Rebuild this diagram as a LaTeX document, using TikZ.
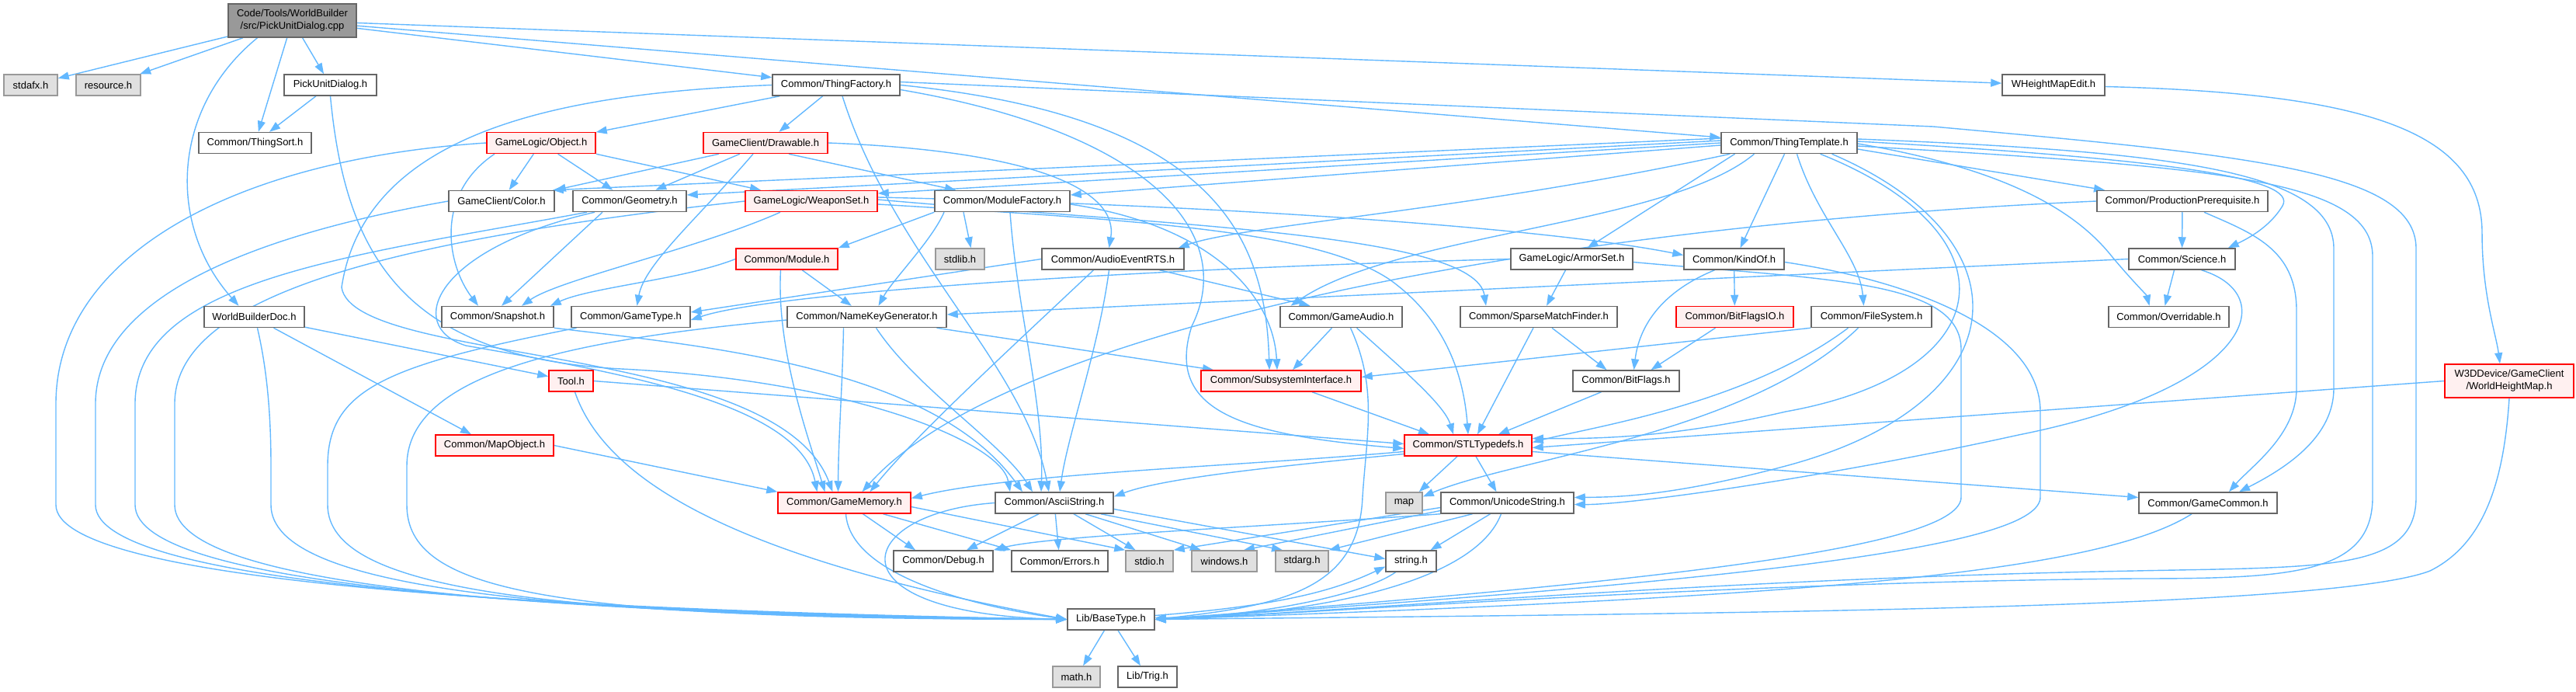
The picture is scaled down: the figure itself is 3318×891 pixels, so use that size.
\documentclass[tikz,border=0pt]{standalone}
\usepackage{fontspec}
\setmainfont{Liberation Sans}
\usetikzlibrary{arrows.meta,backgrounds}

\definecolor{edgeblue}{HTML}{63B8FF}
\definecolor{boxgray}{HTML}{666666}
\definecolor{sysgray}{HTML}{999999}
\definecolor{sysfill}{HTML}{E0E0E0}
\definecolor{redfill}{HTML}{FFF0F0}
\definecolor{rootfill}{HTML}{999999}

\begin{document}
\begin{tikzpicture}[x=1pt,y=-1pt,
  hdr/.style={draw=boxgray, fill=white, line width=1.5pt, minimum height=27pt,
    inner sep=0pt, font=\fontsize{13}{16}\selectfont},
  sysbox/.style={hdr, draw=sysgray, fill=sysfill},
  redbox/.style={hdr, draw=red, fill=redfill},
  rootbox/.style={hdr, fill=rootfill, minimum height=43pt, align=center},
  edge/.style={draw=edgeblue, line width=1.4pt, -{Triangle[length=14pt,width=10pt]}}]
\useasboundingbox (0,0) rectangle (3318,891);

\node[rootbox, minimum width=165] (root) at (376.5,26.5) {Code/Tools/WorldBuilder\\/src/PickUnitDialog.cpp};
\node[sysbox, minimum width=69] (stdafx) at (39.5,109.5) {stdafx.h};
\node[sysbox, minimum width=83] (resource) at (139.5,109.5) {resource.h};
\node[hdr, minimum width=119] (pud) at (425.5,109.5) {PickUnitDialog.h};
\node[hdr, minimum width=164] (tfac) at (1077,109.5) {Common/ThingFactory.h};
\node[hdr, minimum width=132] (whme) at (2645,109.5) {WHeightMapEdit.h};
\node[hdr, minimum width=145] (tsort) at (328.5,184) {Common/ThingSort.h};
\node[redbox, minimum width=140] (obj) at (697,184) {GameLogic/Object.h};
\node[redbox, minimum width=160] (drawable) at (986,184) {GameClient/Drawable.h};
\node[hdr, minimum width=175] (ttpl) at (2304.5,184) {Common/ThingTemplate.h};
\node[hdr, minimum width=136] (color) at (646,259) {GameClient/Color.h};
\node[hdr, minimum width=146] (geom) at (811,259) {Common/Geometry.h};
\node[redbox, minimum width=170] (wset) at (1045,259) {GameLogic/WeaponSet.h};
\node[hdr, minimum width=174] (mfac) at (1291,259) {Common/ModuleFactory.h};
\node[hdr, minimum width=220] (prereq) at (2811,259) {Common/ProductionPrerequisite.h};
\node[redbox, minimum width=131] (module) at (1013.5,333.5) {Common/Module.h};
\node[sysbox, minimum width=63] (stdlib) at (1236.5,333.5) {stdlib.h};
\node[hdr, minimum width=183] (aevt) at (1433.5,333.5) {Common/AudioEventRTS.h};
\node[hdr, minimum width=157] (armor) at (2024.5,333.5) {GameLogic/ArmorSet.h};
\node[hdr, minimum width=129] (kindof) at (2233.5,333.5) {Common/KindOf.h};
\node[hdr, minimum width=137] (science) at (2810.5,333.5) {Common/Science.h};
\node[hdr, minimum width=129] (wbdoc) at (327.5,408) {WorldBuilderDoc.h};
\node[hdr, minimum width=144] (snap) at (641,408) {Common/Snapshot.h};
\node[hdr, minimum width=153] (gtype) at (812.5,408) {Common/GameType.h};
\node[hdr, minimum width=205] (nkg) at (1116.5,408) {Common/NameKeyGenerator.h};
\node[hdr, minimum width=157] (gaudio) at (1727.5,408) {Common/GameAudio.h};
\node[hdr, minimum width=202] (smf) at (1982,408) {Common/SparseMatchFinder.h};
\node[redbox, minimum width=151] (bfio) at (2234.5,408) {Common/BitFlagsIO.h};
\node[hdr, minimum width=155] (fsys) at (2410.5,408) {Common/FileSystem.h};
\node[hdr, minimum width=155] (overr) at (2793.5,408) {Common/Overridable.h};
\node[redbox, minimum width=57] (tool) at (735.5,490.5) {Tool.h};
\node[redbox, minimum width=206] (subsys) at (1650,490.5) {Common/SubsystemInterface.h};
\node[hdr, minimum width=137] (bflags) at (2094.5,490.5) {Common/BitFlags.h};
\node[redbox, minimum width=166, minimum height=43pt, align=center] (whmap) at (3232,490.5) {W3DDevice/GameClient\\/WorldHeightMap.h};
\node[redbox, minimum width=152] (mapobj) at (637,573.5) {Common/MapObject.h};
\node[redbox, minimum width=164] (stl) at (1891,573.5) {Common/STLTypedefs.h};
\node[redbox, minimum width=171] (gmem) at (1087.5,647.5) {Common/GameMemory.h};
\node[hdr, minimum width=152] (astr) at (1358,647.5) {Common/AsciiString.h};
\node[sysbox, minimum width=47] (map) at (1808.5,647.5) {map};
\node[hdr, minimum width=171] (ustr) at (1941.5,647.5) {Common/UnicodeString.h};
\node[hdr, minimum width=178] (gcommon) at (2844,647.5) {Common/GameCommon.h};
\node[hdr, minimum width=128] (debug) at (1215,722.5) {Common/Debug.h};
\node[hdr, minimum width=124] (errors) at (1365,722.5) {Common/Errors.h};
\node[sysbox, minimum width=61] (stdio) at (1480.5,722.5) {stdio.h};
\node[sysbox, minimum width=84] (windows) at (1577,722.5) {windows.h};
\node[sysbox, minimum width=68] (stdarg) at (1677,722.5) {stdarg.h};
\node[hdr, minimum width=65] (string) at (1817.5,722.5) {string.h};
\node[hdr, minimum width=112] (btype) at (1431,797.5) {Lib/BaseType.h};
\node[sysbox, minimum width=61] (math) at (1386.5,871.5) {math.h};
\node[hdr, minimum width=76] (trig) at (1478,871.5) {Lib/Trig.h};

\begin{scope}[on background layer]
\draw[edge] (root) -- (stdafx);
\draw[edge] (root) -- (resource);
\draw[edge] (root) -- (pud);
\draw[edge] (root) -- (tsort);
\draw[edge] ([xshift=-45pt]root.south) .. controls (220,140) and (215,290) .. ([xshift=-20pt]wbdoc.north);
\draw[edge] (root) -- (tfac);
\draw[edge] (root) -- (ttpl);
\draw[edge] (root) -- (whme);

\draw[edge] (pud) -- (tsort);
\draw[edge] (pud.south) .. controls (445,330) and (520,460) .. (800,475) .. controls (1100,490) and (1290,570) .. ([xshift=-57pt]astr.north);

\draw[edge] (tfac) -- (obj);
\draw[edge] (tfac) -- (drawable);
\draw[edge] (tfac.east) .. controls (1560,150) and (1630,300) .. ([xshift=-15pt]subsys.north);
\draw[edge] ([yshift=-6pt]tfac.east) .. controls (1480,170) and (1595,300) .. (1535,420) .. controls (1500,530) and (1600,560) .. ([yshift=-4pt]stl.west);
\draw[edge] ([xshift=8pt]tfac.south) .. controls (1150,330) and (1320,470) .. ([xshift=-7pt]astr.north);
\draw[edge] (tfac.west) .. controls (720,120) and (470,170) .. (440,370) .. controls (455,470) and (1000,440) .. ([xshift=-15pt]gmem.north);
\draw[edge] ([yshift=4pt]tfac.east) -- (2490,163) .. controls (2900,200) and (3112,220) .. (3112,320) -- (3112,640) .. controls (3112,735) and (3000,730) .. (2750,735) .. controls (2200,745) and (1700,790) .. (btype.east);

\draw[edge] (obj) -- (color);
\draw[edge] (obj) -- (geom);
\draw[edge] ([xshift=-60pt]obj.south) .. controls (560,250) and (575,340) .. ([xshift=-25pt]snap.north);
\draw[edge] (obj.south east) -- ([xshift=-65pt]wset.north);
\draw[edge] (obj.west) .. controls (300,205) and (72,330) .. (72,520) -- (72,650) .. controls (72,750) and (700,785) .. (btype.west);

\draw[edge] ([xshift=-60pt]drawable.south) -- (color.north east);
\draw[edge] (drawable) -- (geom);
\draw[edge] ([xshift=-16pt]drawable.south) .. controls (900,280) and (830,340) .. ([xshift=8pt]gtype.north);
\draw[edge] ([xshift=30pt]drawable.south) -- ([xshift=-60pt]mfac.north);
\draw[edge] (drawable.east) .. controls (1350,195) and (1440,250) .. ([xshift=-5pt]aevt.north);

\draw[edge] (color.west) .. controls (400,290) and (123,360) .. (123,520) -- (123,650) .. controls (123,752) and (700,787) .. (btype.west);

\draw[edge] ([xshift=-35pt]geom.south) -- ([xshift=5pt]snap.north);
\draw[edge] ([xshift=-55pt]geom.south) .. controls (450,330) and (174,360) .. (174,520) -- (174,650) .. controls (174,754) and (700,789) .. (btype.west);
\draw[edge] ([xshift=-45pt]geom.south) .. controls (560,320) and (520,420) .. (600,445) .. controls (800,480) and (1030,520) .. ([xshift=-35pt]gmem.north);

\draw[edge] ([xshift=-40pt]wset.south) .. controls (900,320) and (720,360) .. ([xshift=31pt]snap.north);
\draw[edge] ([yshift=2pt]wset.east) .. controls (1500,290) and (1900,300) .. ([xshift=-68pt]smf.north);
\draw[edge] ([yshift=5pt]wset.east) .. controls (1600,265) and (2000,295) .. ([yshift=5pt]kindof.west);
\draw[edge] ([yshift=-4pt]wset.east) .. controls (1500,285) and (1700,300) .. (1790,360) .. controls (1860,410) and (1885,480) .. (stl.north);
\draw[edge] (wset.west) .. controls (500,310) and (225,380) .. (225,520) -- (225,650) .. controls (225,756) and (700,791) .. (btype.west);

\draw[edge] (mfac.south west) -- (module.north east);
\draw[edge] ([xshift=-50pt]mfac.south) -- ([xshift=14pt]stdlib.north);
\draw[edge] ([xshift=-75pt]mfac.south) .. controls (1200,310) and (1150,360) .. ([xshift=15pt]nkg.north);
\draw[edge] ([yshift=-4pt]mfac.east) .. controls (1560,290) and (1640,380) .. ([xshift=-5pt]subsys.north);
\draw[edge] ([xshift=10pt]mfac.south) .. controls (1310,400) and (1345,520) .. ([xshift=-17pt]astr.north);

\draw[edge] (module) -- (nkg);
\draw[edge] ([xshift=-8pt]module.south) .. controls (1000,450) and (1040,560) .. ([xshift=-25pt]gmem.north);
\draw[edge] (module.west) .. controls (880,360) and (760,370) .. ([xshift=-5pt]snap.north east);

\draw[edge] (aevt.west) -- ([yshift=6pt]gtype.east);
\draw[edge] ([xshift=-25pt]aevt.south) .. controls (1300,450) and (1180,560) .. ([xshift=33pt]gmem.north);
\draw[edge] ([xshift=-5pt]aevt.south) .. controls (1415,450) and (1375,560) .. ([xshift=7pt]astr.north);
\draw[edge] ([xshift=60pt]aevt.south) -- ([xshift=-40pt]gaudio.north);

\draw[edge] ([yshift=6pt]ttpl.west) -- ([xshift=-3pt]color.north east);
\draw[edge] ([yshift=3pt]ttpl.west) -- ([yshift=8pt]geom.east);
\draw[edge] (ttpl.west) -- ([yshift=10pt]wset.east);
\draw[edge] ([yshift=-3pt]ttpl.west) -- ([yshift=8pt]mfac.east);
\draw[edge] ([xshift=12pt]ttpl.south west) .. controls (1900,270) and (1600,290) .. ([xshift=-8pt]aevt.north east);
\draw[edge] ([xshift=-70pt]ttpl.south) -- ([xshift=20pt]armor.north);
\draw[edge] ([xshift=-45pt]ttpl.south) .. controls (2150,290) and (1800,300) .. ([xshift=-65pt]gaudio.north);
\draw[edge] ([xshift=-6pt]ttpl.south) -- ([xshift=8pt]kindof.north);
\draw[edge] ([xshift=10pt]ttpl.south) .. controls (2340,280) and (2395,330) .. ([xshift=-10pt]fsys.north);
\draw[edge] ([xshift=40pt]ttpl.south) .. controls (2600,300) and (2580,480) .. (2300,530) .. controls (2150,565) and (2050,565) .. ([yshift=9pt]stl.east);
\draw[edge] ([xshift=55pt]ttpl.south) .. controls (2620,310) and (2600,520) .. (2300,600) .. controls (2150,640) and (2080,640) .. ([yshift=7pt]ustr.east);
\draw[edge] ([yshift=-8pt]ttpl.east) -- ([xshift=-100pt]prereq.north);
\draw[edge] ([yshift=2pt]ttpl.east) .. controls (2800,205) and (2960,230) .. (2940,265) .. controls (2925,290) and (2900,305) .. ([xshift=-10pt]science.north east);
\draw[edge] ([yshift=-1pt]ttpl.east) .. controls (2600,220) and (2680,280) .. (2720,330) .. controls (2745,360) and (2765,380) .. ([xshift=-25pt]overr.north);
\draw[edge] ([yshift=5pt]ttpl.east) .. controls (2800,195) and (3006,220) .. (3006,320) -- (3006,500) .. controls (3006,560) and (2950,600) .. ([xshift=40pt]gcommon.north);
\draw[edge] ([yshift=-4pt]ttpl.east) .. controls (2850,215) and (3056,230) .. (3056,330) -- (3056,640) .. controls (3056,740) and (2950,745) .. (2750,745) .. controls (2200,750) and (1700,790) .. (btype.east);

\draw[edge] ([xshift=28pt]prereq.south) .. controls (2900,300) and (2958,320) .. (2958,400) -- (2958,500) .. controls (2958,560) and (2900,600) .. ([xshift=27pt]gcommon.north);
\draw[edge] (prereq) -- (science);
\draw[edge] (prereq.west) .. controls (2000,290) and (1300,420) .. ([xshift=23pt]gmem.north);

\draw[edge] (armor.west) .. controls (1500,345) and (1000,375) .. ([yshift=-4pt]gtype.east);
\draw[edge] ([xshift=-8pt]armor.south) -- ([xshift=10pt]smf.north);
\draw[edge] ([yshift=-4pt]armor.east) .. controls (2350,360) and (2526,360) .. (2526,450) -- (2526,640) .. controls (2526,700) and (2200,745) .. (btype.east);

\draw[edge] (kindof) -- (bfio);
\draw[edge] ([xshift=-25pt]kindof.south) .. controls (2130,380) and (2110,430) .. ([xshift=10pt]bflags.north);
\draw[edge] ([yshift=-4pt]kindof.east) .. controls (2450,360) and (2628,420) .. (2628,530) -- (2628,640) .. controls (2628,700) and (2300,745) .. (btype.east);

\draw[edge] ([xshift=-10pt]science.south) -- ([xshift=-5pt]overr.north);
\draw[edge] (science.west) -- ([yshift=3pt]nkg.east);
\draw[edge] ([xshift=25pt]science.south) .. controls (2940,380) and (2900,500) .. (2600,560) .. controls (2350,615) and (2100,650) .. ([yshift=-2pt]ustr.east);

\draw[edge] ([yshift=-2pt]whme.east) .. controls (3050,120) and (3197,170) .. (3197,300) .. controls (3197,380) and (3215,430) .. ([xshift=-12pt]whmap.north);
\draw[edge] (whmap.west) -- ([yshift=-3pt]stl.east);
\draw[edge] (whmap.south) .. controls (3225,620) and (3200,700) .. (3130,735) .. controls (3000,785) and (2200,790) .. (btype.east);

\draw[edge] (wbdoc) -- (tool);
\draw[edge] ([xshift=25pt]wbdoc.south) -- ([xshift=-30pt]mapobj.north);
\draw[edge] ([xshift=4pt]wbdoc.south) .. controls (345,480) and (349,540) .. (349,600) -- (349,650) .. controls (349,758) and (700,793) .. (btype.west);

\draw[edge] (snap.south east) .. controls (900,445) and (1200,470) .. ([xshift=-41pt]astr.north);
\draw[edge] ([xshift=-70pt]gtype.south) .. controls (500,470) and (422,500) .. (422,600) -- (422,650) .. controls (422,760) and (700,795) .. (btype.west);

\draw[edge] ([yshift=-4pt]nkg.west) .. controls (700,440) and (524,490) .. (524,600) -- (524,650) .. controls (524,760) and (700,797) .. (btype.west);
\draw[edge] ([xshift=-30pt]nkg.south) .. controls (1085,500) and (1080,560) .. ([xshift=-8pt]gmem.north);
\draw[edge] ([xshift=12pt]nkg.south) .. controls (1180,500) and (1290,570) .. ([xshift=-28pt]astr.north);
\draw[edge] ([xshift=90pt]nkg.south) -- ([xshift=-87pt]subsys.north);

\draw[edge] ([xshift=-12pt]gaudio.south) -- ([xshift=15pt]subsys.north);
\draw[edge] ([xshift=20pt]gaudio.south) .. controls (1800,470) and (1860,520) .. ([xshift=-19pt]stl.north);
\draw[edge] ([xshift=12pt]gaudio.south) .. controls (1775,500) and (1760,560) .. (1755,640) .. controls (1750,760) and (1650,780) .. (btype.east);

\draw[edge] ([xshift=-7pt]smf.south) -- ([xshift=12pt]stl.north);
\draw[edge] ([xshift=17pt]smf.south) -- ([xshift=-25pt]bflags.north);
\draw[edge] ([xshift=-25pt]bfio.south) -- ([xshift=32pt]bflags.north);
\draw[edge] ([xshift=-32pt]bflags.south) -- ([xshift=39pt]stl.north);
\draw[edge] (fsys.south west) -- ([yshift=5pt]subsys.east);
\draw[edge] ([xshift=-30pt]fsys.south) .. controls (2250,520) and (2050,550) .. ([yshift=4pt]stl.east);
\draw[edge] ([xshift=-17pt]fsys.south) .. controls (2250,560) and (1950,590) .. ([yshift=8pt]map.east);
\draw[edge] ([xshift=40pt]subsys.south) -- ([xshift=-50pt]stl.north);

\draw[edge] (tool.east) -- ([yshift=2pt]stl.west);
\draw[edge] ([xshift=5pt]tool.south) .. controls (780,620) and (950,720) .. (btype.west);
\draw[edge] (mapobj.east) -- (gmem.north west);

\draw[edge] ([yshift=-8pt]stl.west) .. controls (1600,600) and (1300,610) .. ([yshift=6pt]gmem.east);
\draw[edge] ([yshift=-11pt]stl.west) .. controls (1650,600) and (1500,615) .. ([yshift=8pt]astr.east);
\draw[edge] ([xshift=-14pt]stl.south) -- ([xshift=-5pt]map.north east);
\draw[edge] ([xshift=10pt]stl.south) -- ([xshift=-14pt]ustr.north);
\draw[edge] ([yshift=-8pt]stl.east) -- ([yshift=7pt]gcommon.west);

\draw[edge] ([xshift=24pt]gmem.south) -- ([xshift=-36pt]debug.north);
\draw[edge] ([xshift=50pt]gmem.south) -- (errors.north west);
\draw[edge] ([yshift=-5pt]gmem.east) -- (stdio.north west);
\draw[edge] ([xshift=2pt]gmem.south) .. controls (1095,740) and (1250,780) .. (btype.west);

\draw[edge] ([xshift=-20pt]astr.south) -- ([xshift=30pt]debug.north);
\draw[edge] (astr) -- (errors);
\draw[edge] ([xshift=25pt]astr.south) -- ([xshift=-18pt]stdio.north);
\draw[edge] ([xshift=40pt]astr.south) -- ([xshift=-30pt]windows.north);
\draw[edge] ([xshift=60pt]astr.south) -- ([xshift=-25pt]stdarg.north);
\draw[edge] ([yshift=-8pt]astr.east) -- ([yshift=3pt]string.west);
\draw[edge] (astr.west) .. controls (1100,660) and (1060,790) .. (btype.west);

\draw[edge] (ustr.south west) .. controls (1600,680) and (1350,690) .. (debug.north east);
\draw[edge] ([yshift=-6pt]ustr.west) -- (stdio.north east);
\draw[edge] ([yshift=-10pt]ustr.west) -- ([xshift=25pt]windows.north);
\draw[edge] ([xshift=-45pt]ustr.south) -- (stdarg.north east);
\draw[edge] ([xshift=-22pt]ustr.south) -- ([xshift=25pt]string.north);
\draw[edge] ([xshift=-8pt]ustr.south) .. controls (1900,750) and (1700,790) .. (btype.east);

\draw[edge] ([xshift=-21pt]gcommon.south) .. controls (2700,740) and (2300,770) .. (btype.east);

\draw[edge] (btype) -- (math);
\draw[edge] (btype) -- (trig);
\draw[edge] ([yshift=5pt]btype.east) .. controls (1650,780) and (1720,760) .. ([yshift=-7pt]string.west);
\draw[edge] ([xshift=-20pt]string.south) .. controls (1750,770) and (1600,795) .. ([yshift=2pt]btype.east);
\end{scope}
\end{tikzpicture}
\end{document}
